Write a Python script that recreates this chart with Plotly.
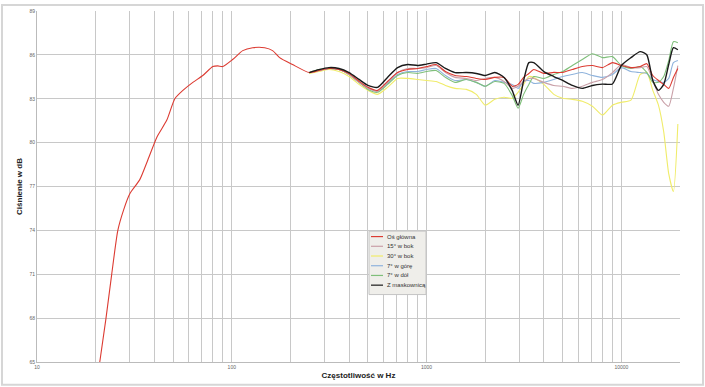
import plotly.graph_objects as go

# Low-frequency part of the main-axis curve (Hz, dB)
freq_low = [21.0, 22.6, 24.2, 26.0, 27.9, 30.0, 33.7, 37.1, 41.3, 46.4, 51.0, 56.1,
            63.1, 71.0, 79.9, 84.7, 89.9, 101, 113.8, 128, 147.6, 162, 176, 205]
main_low = [65.0, 67.98, 71.03, 74.0, 75.44, 76.52, 77.47, 78.83, 80.39, 81.54, 83.0, 83.57,
            84.12, 84.59, 85.2, 85.25, 85.2, 85.68, 86.29, 86.49, 86.49, 86.29, 85.81, 85.34]

# Shared frequency grid for the measured bundle (Hz)
freq = [250, 280, 315, 355, 400, 450, 500, 560, 630, 710, 800, 900, 1000, 1120, 1250,
        1400, 1600, 1800, 2000, 2240, 2500, 2750, 2950, 3150, 3350, 3550, 4000, 4500,
        5000, 5600, 6300, 7100, 8000, 9000, 10000, 11200, 12500, 13500, 14500, 15500,
        16500, 17500, 18500, 19500]

main_hi = [84.79, 84.93, 85.07, 85.0, 84.73, 84.2, 83.78, 83.57, 84.18, 84.79, 85.0, 85.07,
           85.2, 85.34, 84.86, 84.59, 84.52, 84.39, 84.32, 84.46, 84.46, 83.85, 83.98, 84.46,
           84.73, 85.0, 84.73, 84.8, 84.8, 85.0, 85.2, 85.27, 85.13, 85.47, 85.27, 85.13,
           85.2, 85.4, 84.59, 84.25, 83.98, 83.71, 84.46, 85.07]

deg15 = [84.79, 84.93, 85.07, 85.0, 84.66, 84.12, 83.71, 83.51, 84.12, 84.79, 85.07, 85.07,
         85.13, 85.27, 84.79, 84.46, 84.39, 84.25, 84.39, 84.46, 84.18, 83.71, 83.85, 84.18,
         84.39, 84.39, 84.12, 83.91, 83.85, 83.71, 83.85, 84.12, 84.32, 84.79, 85.34, 85.13,
         85.13, 85.2, 84.25, 83.3, 82.76, 82.49, 83.71, 85.27]

deg30 = [84.73, 84.86, 85.0, 84.86, 84.52, 83.98, 83.57, 83.3, 83.78, 84.39, 84.39, 84.32,
         84.25, 84.18, 83.91, 83.71, 83.64, 83.3, 82.56, 82.96, 83.1, 83.03, 83.44, 83.98,
         84.52, 84.46, 83.98, 83.3, 83.03, 82.96, 82.83, 82.49, 81.88, 82.56, 82.76, 82.9,
         84.66, 84.79, 83.57, 82.56, 80.73, 77.88, 76.66, 81.27]

up7 = [84.79, 84.93, 85.07, 85.0, 84.66, 84.12, 83.71, 83.51, 84.05, 84.66, 84.86, 84.86,
       85.0, 85.07, 84.59, 84.25, 84.32, 84.12, 83.85, 84.25, 84.12, 83.98, 83.71, 84.18,
       84.25, 84.05, 84.12, 84.32, 84.52, 84.66, 84.79, 84.59, 84.46, 84.66, 85.13, 84.86,
       84.79, 84.73, 84.32, 84.18, 84.12, 84.39, 85.47, 85.61]

down7 = [84.79, 84.99, 85.07, 85.0, 84.66, 84.12, 83.64, 83.44, 83.98, 84.59, 84.79, 84.73,
         84.86, 84.93, 84.46, 84.12, 84.32, 84.12, 83.85, 84.18, 84.05, 83.23, 82.35, 83.3,
         83.98, 84.52, 84.39, 84.66, 84.86, 85.27, 85.68, 86.08, 85.81, 85.88, 85.27, 85.07,
         85.2, 84.8, 84.12, 84.12, 84.52, 85.61, 86.9, 86.83]

grill = [84.79, 84.99, 85.13, 85.07, 84.79, 84.32, 83.91, 83.78, 84.46, 85.13, 85.34, 85.27,
         85.37, 85.47, 85.07, 84.79, 84.79, 84.73, 84.59, 84.79, 84.46, 83.57, 82.56, 84.25,
         85.47, 85.47, 84.86, 84.52, 84.25, 83.91, 83.71, 83.91, 84.0, 84.01, 85.27, 85.81,
         86.22, 86.01, 84.25, 83.57, 83.98, 85.34, 86.49, 86.35]

names = ["Oś główna", "15° w bok", "30° w bok", "7° w górę", "7° w dół", "Z maskownicą"]
colors = ["#dc3b32", "#c9a0a8", "#f0ec6a", "#8fb3dc", "#7fbf7a", "#1a1a1a"]
widths = [1.1, 1.1, 1.1, 1.1, 1.1, 1.4]

series_x = [freq_low + freq, freq, freq, freq, freq, freq]
series_y = [main_low + main_hi, deg15, deg30, up7, down7, grill]

x_grid = []
x_text = []
for dec in [10, 100, 1000, 10000]:
    for m in range(1, 10):
        v = dec * m
        if v > 20000:
            break
        x_grid.append(v)
        x_text.append(str(v) if m == 1 else "")
x_grid.append(20000)
x_text.append("")

y_ticks = [65, 68, 71, 74, 77, 80, 83, 86, 89]

# plot area geometry (pixels) used only for placing the hand-drawn legend
ML, MR, MT, MB = 37, 25, 8, 25
W, H = 705, 387
PW, PH = W - ML - MR, H - MT - MB


def px(xp):
    return (xp - ML) / PW


def py(yp):
    return (H - MB - yp) / PH


fig = go.Figure()
order = [2, 3, 4, 1, 0, 5]
for i in order:
    fig.add_trace(go.Scatter(x=series_x[i], y=series_y[i], mode="lines", name=names[i],
                             showlegend=False, hoverinfo="x+y+name",
                             line=dict(color=colors[i], width=widths[i], shape="spline",
                                       smoothing=0.6)))

fig.update_layout(
    width=W, height=H,
    margin=dict(l=ML, r=MR, t=MT, b=MB),
    paper_bgcolor="white", plot_bgcolor="white",
    font=dict(family="Liberation Sans, Arial, sans-serif", color="#555555"),
    showlegend=False,
    xaxis=dict(type="log", range=[1, 4.301], tickvals=x_grid, ticktext=x_text,
               showgrid=True, gridcolor="#c8c8c8", gridwidth=1,
               ticks="", tickfont=dict(size=5, color="#666666"),
               showline=True, linecolor="#bbbbbb", zeroline=False,
               title=dict(text="<b>Częstotliwość w Hz</b>", font=dict(size=8, color="#222222"),
                          standoff=3)),
    yaxis=dict(range=[65, 89], tickvals=y_ticks, showgrid=True, gridcolor="#c8c8c8",
               gridwidth=1, ticks="", tickfont=dict(size=5, color="#666666"),
               showline=True, linecolor="#bbbbbb", zeroline=False,
               title=dict(text="<b>Ciśnienie w dB</b>", font=dict(size=8, color="#222222"),
                          standoff=5)),
)

# outer frame
fig.add_shape(type="rect", xref="paper", yref="paper", x0=px(2), x1=px(703), y0=py(385), y1=py(2),
              line=dict(color="#d6d6d6", width=2), layer="below")

# hand-drawn compact legend
fig.add_shape(type="rect", xref="paper", yref="paper", x0=px(369), x1=px(426), y0=py(294), y1=py(230),
              fillcolor="#efeeea", line=dict(color="#c4c4c4", width=1), layer="above")
for k, nm in enumerate(names):
    yy = 235.5 + k * 9.8
    fig.add_shape(type="line", xref="paper", yref="paper", x0=px(371), x1=px(383),
                  y0=py(yy), y1=py(yy), line=dict(color=colors[k], width=1.2), layer="above")
    fig.add_annotation(xref="paper", yref="paper", x=px(384.5), y=py(yy), text=nm,
                       showarrow=False, xanchor="left", yanchor="middle",
                       font=dict(size=6, color="#333333"))

fig.write_html("out.html")
